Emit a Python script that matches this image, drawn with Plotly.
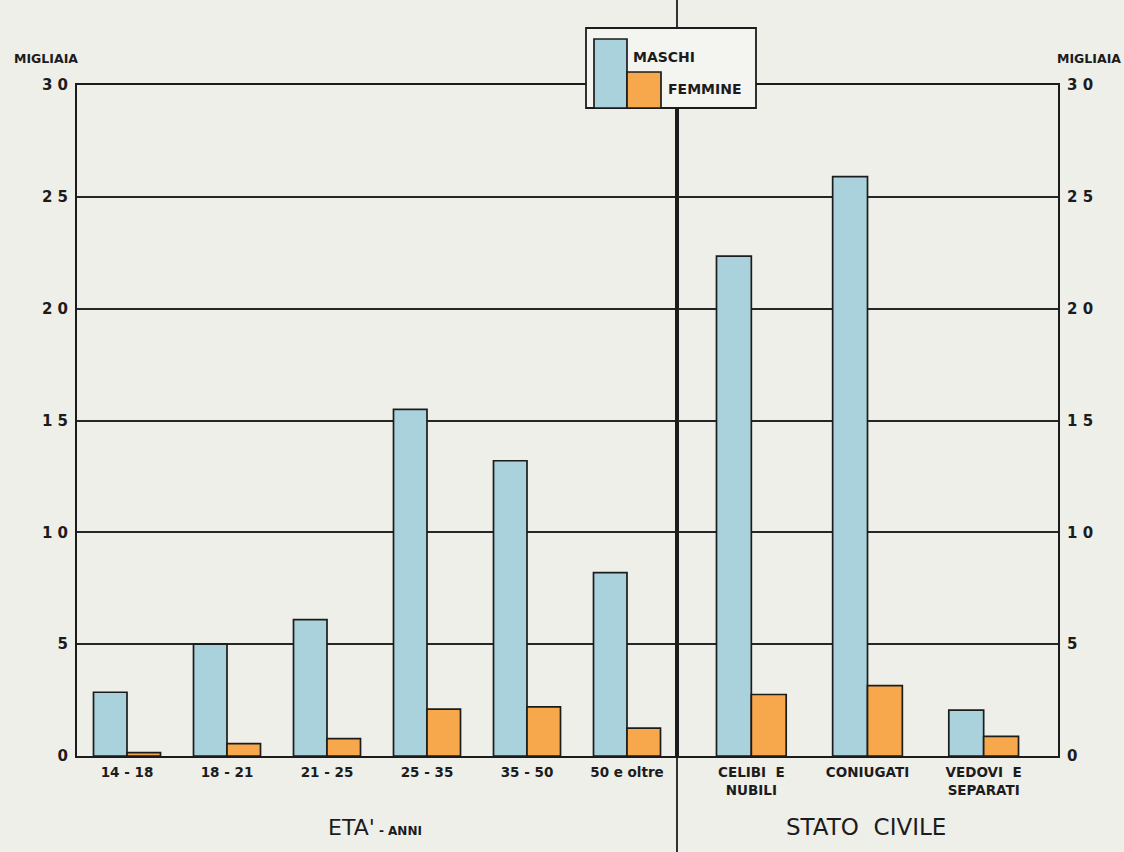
import plotly.graph_objects as go
from plotly.subplots import make_subplots

# ---- data (migliaia) ----
eta_labels = ["14 - 18", "18 - 21", "21 - 25", "25 - 35", "35 - 50", "50 e oltre"]
eta_maschi = [2.85, 5.0, 6.1, 15.5, 13.2, 8.2]
eta_femmine = [0.15, 0.55, 0.78, 2.1, 2.2, 1.25]

stato_labels = ["CELIBI  E<br>NUBILI", "CONIUGATI", "VEDOVI  E<br>SEPARATI"]
stato_maschi = [22.35, 25.9, 2.05]
stato_femmine = [2.75, 3.15, 0.88]

y_tickvals = [0, 5, 10, 15, 20, 25, 30]
y_ticktext = ["0", "5", "1 0", "1 5", "2 0", "2 5", "3 0"]

# ---- style ----
BG = "#efefea"
BLUE = "#a9d2dc"
ORANGE = "#f8a84c"
INK = "#1c1c1c"
FONT = "DejaVu Sans"

W, H = 1124, 852
L, R, T, B = 77, 1058, 85, 756
DIV = 677


def px(x):
    return (x - L) / (R - L)


def py(y):
    return (B - y) / (B - T)


split = px(DIV)

fig = make_subplots(rows=1, cols=2, shared_yaxes=False, horizontal_spacing=0)

bar_line = dict(color=INK, width=1.7)
wl = 0.335
wr = 0.30

fig.add_trace(go.Bar(x=eta_labels, y=eta_maschi, marker=dict(color=BLUE, line=bar_line),
                     width=wl, offset=-wl, name="MASCHI", showlegend=False), row=1, col=1)
fig.add_trace(go.Bar(x=eta_labels, y=eta_femmine, marker=dict(color=ORANGE, line=bar_line),
                     width=wl, offset=0, name="FEMMINE", showlegend=False), row=1, col=1)
fig.add_trace(go.Bar(x=stato_labels, y=stato_maschi, marker=dict(color=BLUE, line=bar_line),
                     width=wr, offset=-wr, name="MASCHI", showlegend=False), row=1, col=2)
fig.add_trace(go.Bar(x=stato_labels, y=stato_femmine, marker=dict(color=ORANGE, line=bar_line),
                     width=wr, offset=0, name="FEMMINE", showlegend=False), row=1, col=2)

tickfont = dict(family=FONT, size=15, color=INK, weight="bold")
xtickfont = dict(family=FONT, size=13.5, color=INK, weight="bold")

common_y = dict(range=[0, 30], tickvals=y_tickvals, ticktext=y_ticktext,
                showgrid=True, gridcolor="#262626", gridwidth=1.6,
                showline=True, linecolor=INK, linewidth=2, mirror=True,
                zeroline=False, ticks="outside", ticklen=4, tickcolor="rgba(0,0,0,0)",
                tickfont=tickfont, fixedrange=True)
common_x = dict(showline=True, linecolor=INK, linewidth=2, mirror=True,
                showgrid=False, zeroline=False, ticks="outside", ticklen=3,
                tickcolor="rgba(0,0,0,0)", tickfont=xtickfont, type="category")

fig.update_layout(
    xaxis=dict(domain=[0, split], range=[-0.5, 5.5], **common_x),
    xaxis2=dict(domain=[split, 1], range=[-0.64, 2.64], **common_x),
    yaxis=dict(side="left", **common_y),
    yaxis2=dict(side="right", matches="y", showticklabels=True, **common_y),
)

shapes = []
# vertical divider across the whole page
shapes.append(dict(type="line", xref="paper", yref="paper", x0=split, x1=split,
                   y0=py(H + 5), y1=py(-5), line=dict(color=INK, width=1.8), layer="above"))
# legend box
shapes.append(dict(type="rect", xref="paper", yref="paper", x0=px(586), x1=px(756),
                   y0=py(108), y1=py(28), fillcolor="#f4f4f1", line=dict(color=INK, width=1.8),
                   layer="above"))
shapes.append(dict(type="rect", xref="paper", yref="paper", x0=px(594), x1=px(627),
                   y0=py(108), y1=py(39), fillcolor=BLUE, line=dict(color=INK, width=1.7),
                   layer="above"))
shapes.append(dict(type="rect", xref="paper", yref="paper", x0=px(627), x1=px(661),
                   y0=py(108), y1=py(72), fillcolor=ORANGE, line=dict(color=INK, width=1.7),
                   layer="above"))

annotations = [
    dict(text="MASCHI", x=px(631), y=py(57), xanchor="left", yanchor="middle",
         font=dict(family=FONT, size=14, color=INK, weight="bold")),
    dict(text="FEMMINE", x=px(666), y=py(89), xanchor="left", yanchor="middle",
         font=dict(family=FONT, size=14, color=INK, weight="bold")),
    dict(text="MIGLIAIA", x=px(46), y=py(58), xanchor="center", yanchor="middle",
         font=dict(family=FONT, size=12.5, color=INK, weight="bold")),
    dict(text="MIGLIAIA", x=px(1089), y=py(58), xanchor="center", yanchor="middle",
         font=dict(family=FONT, size=12.5, color=INK, weight="bold")),
    dict(text="ETA'<span style='font-size:12px;font-weight:bold'> - ANNI</span>", x=px(375),
         y=py(827), xanchor="center", yanchor="middle",
         font=dict(family=FONT, size=22, color=INK, weight=500)),
    dict(text="STATO  CIVILE", x=px(866), y=py(827), xanchor="center", yanchor="middle",
         font=dict(family=FONT, size=23, color=INK)),
]
for a in annotations:
    a.update(xref="paper", yref="paper", showarrow=False)

fig.update_layout(
    width=W, height=H,
    margin=dict(l=L, r=W - R, t=T, b=H - B, autoexpand=False),
    paper_bgcolor=BG, plot_bgcolor=BG,
    barmode="overlay",
    shapes=shapes, annotations=annotations,
    showlegend=False,
    font=dict(family=FONT, color=INK),
)

fig.write_html("out.html", config={"displayModeBar": False},
               post_script="document.body.style.margin='0';document.body.style.padding='0';"
                           "document.body.style.overflow='hidden';")
